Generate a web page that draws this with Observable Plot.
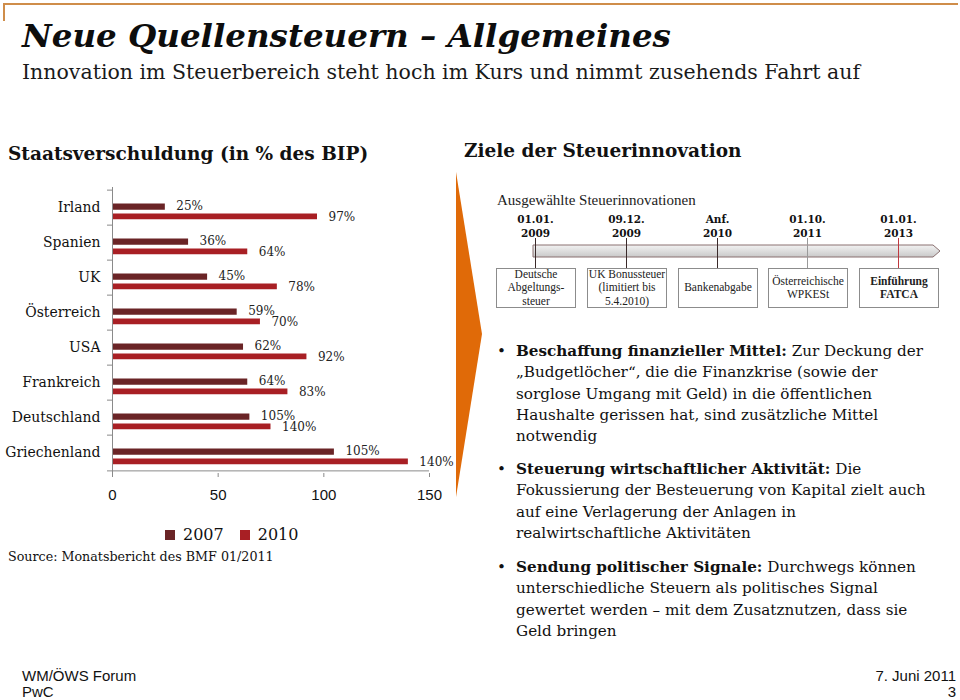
<!DOCTYPE html>
<html><head><meta charset="utf-8">
<script src="https://cdn.jsdelivr.net/npm/d3@7"></script>
<script src="https://cdn.jsdelivr.net/npm/@observablehq/plot@0.6"></script>
<style>
body{margin:0;background:#fff;}
#page{position:relative;width:960px;height:700px;overflow:hidden;font-family:"DejaVu Serif",serif;color:#111;}
.abs{position:absolute;white-space:nowrap;}
#title{left:22px;top:16px;font:bold italic 32.5px "DejaVu Serif",serif;color:#0d0d0d;}
#subtitle{left:22px;top:60px;font:20.5px "DejaVu Serif",serif;color:#1a1a1a;}
.h2{font:bold 18.5px "DejaVu Serif",serif;color:#111;}
#chart{left:0;top:180px;}
#legend{left:165px;top:518px;}
#legend *{font-family:"DejaVu Serif",serif !important;font-size:16px !important;color:#111;}
#source{left:8px;top:549px;font:12.7px "DejaVu Serif",serif;color:#111;}
.tl-date{font:bold 10.5px "DejaVu Serif",serif;text-align:center;width:70px;line-height:14px;}
.tl-box{border:1px solid #8c8c8c;background:#fff;font:11.5px "Liberation Serif","Times New Roman",serif;text-align:center;display:flex;align-items:center;justify-content:center;line-height:13.5px;white-space:nowrap;color:#222;}
.bul{left:497px;font:15.2px "DejaVu Serif",serif;line-height:21.3px;color:#111;}
.bul .dot{position:absolute;left:0;top:0;}
.bul .txt{position:absolute;left:19px;top:0;}
.foot{font:15px "Liberation Sans",Arial,sans-serif;color:#111;}
</style></head><body><div id="page">
<div class="abs" style="left:3px;top:3px;width:955px;height:2px;background:#cf8d4a"></div>
<div class="abs" style="left:3px;top:3px;width:2px;height:18px;background:#cf8d4a"></div>
<div id="title" class="abs">Neue Quellensteuern – Allgemeines</div>
<div id="subtitle" class="abs">Innovation im Steuerbereich steht hoch im Kurs und nimmt zusehends Fahrt auf</div>
<div class="abs h2" style="left:8px;top:143px">Staatsverschuldung (in % des BIP)</div>
<div class="abs h2" style="left:464px;top:140px">Ziele der Steuerinnovation</div>
<div id="chart" class="abs"></div>
<div id="legend" class="abs"></div>
<div id="source" class="abs">Source: Monatsbericht des BMF 01/2011</div>
<svg class="abs" style="left:0;top:0" width="960" height="700" id="deco"></svg>
<div id="timeline"></div>
<div id="bullets"></div>
<div class="abs foot" style="left:22px;top:667px">WM/ÖWS Forum</div>
<div class="abs foot" style="left:22px;top:683px">PwC</div>
<div class="abs foot" style="right:4px;top:667px">7. Juni 2011</div>
<div class="abs foot" style="right:4px;top:683px">3</div>
</div>
<script>
// ---- Data ----
const countries = ["Irland","Spanien","UK","Österreich","USA","Frankreich","Deutschland","Griechenland"];
const years = ["2007","2010"];
const debt2007 = [25,36,45,59,62,64,65,105];
const debt2010 = [97,64,78,70,92,83,75,140];
const labels2007 = ["25%","36%","45%","59%","62%","64%","105%","105%"];
const labels2010 = ["97%","64%","78%","70%","92%","83%","140%","140%"];
const xTicks = [0,50,100,150];
const yearColors = ["#6a2426","#a81f24"];

const eventDates = [["01.01.","2009"],["09.12.","2009"],["Anf.","2010"],["01.10.","2011"],["01.01.","2013"]];
const eventNames = ["Deutsche<br>Abgeltungs-<br>steuer","UK Bonussteuer<br>(limitiert bis<br>5.4.2010)","Bankenabgabe","Österreichische<br>WPKESt","<b>Einführung<br>FATCA</b>"];
const eventLineColors = ["#3a2a2a","#3a2a2a","#3a2a2a","#9a9a9a","#c0393f"];

const bullets = [
  ["Beschaffung finanzieller Mittel:", " Zur Deckung der", ["„Budgetlöcher“, die die Finanzkrise (sowie der","sorglose Umgang mit Geld) in die öffentlichen","Haushalte gerissen hat, sind zusätzliche Mittel","notwendig"]],
  ["Steuerung wirtschaftlicher Aktivität:", " Die", ["Fokussierung der Besteuerung von Kapital zielt auch","auf eine Verlagerung der Anlagen in","realwirtschaftliche Aktivitäten"]],
  ["Sendung politischer Signale:", " Durchwegs können", ["unterschiedliche Steuern als politisches Signal","gewertet werden – mit dem Zusatznutzen, dass sie","Geld bringen"]]
];

// ---- Chart ----
const rows = years.flatMap((yr, j) => countries.map((c, i) => ({
  country: c, year: yr,
  value: j ? debt2010[i] : debt2007[i],
  label: j ? labels2010[i] : labels2007[i]
})));
const r07 = rows.filter(d => d.year === "2007");
const r10 = rows.filter(d => d.year === "2010");

const H = 329, MT = 7, MB = 36;
const BW = (H - MT - MB) / countries.length;
const axisColor = "#8a8a8a";

const chart = Plot.plot({
  width: 460, height: H,
  marginLeft: 112, marginRight: 31, marginTop: MT, marginBottom: MB,
  style: {background: "transparent", overflow: "visible"},
  x: {domain: [0, 150], label: null},
  y: {domain: countries, padding: 0, label: null},
  color: {domain: years, range: yearColors},
  marks: [
    Plot.barX(r07, {y: "country", x: "value", fill: "year", insetTop: 13.5, insetBottom: BW - 20.5}),
    Plot.barX(r10, {y: "country", x: "value", fill: "year", insetTop: 23.5, insetBottom: BW - 30}),
    Plot.text(r07, {y: "country", x: "value", text: "label", textAnchor: "start", dx: 11, dy: -2,
      fontFamily: "DejaVu Serif", fontSize: 12, fill: "#222"}),
    Plot.text(r10, {y: "country", x: "value", text: "label", textAnchor: "start", dx: 11, dy: 9.5,
      fontFamily: "DejaVu Serif", fontSize: 12, fill: "#222"}),
    Plot.ruleX([0], {stroke: axisColor, insetBottom: -4}),
    Plot.ruleY(countries, {y: d => d, x1: 0, x2: 0, insetLeft: -5, dy: -BW / 2, stroke: axisColor}),
    Plot.ruleY([countries[countries.length - 1]], {y: d => d, x1: 0, x2: 150, insetLeft: -5, dy: BW / 2, stroke: axisColor}),
    Plot.axisX(xTicks, {tickSize: 4, tickPadding: 12, stroke: axisColor, fontFamily: "Liberation Sans, Arial, sans-serif", fontSize: 15, fill: "#111", label: null, tickFormat: d => String(d)}),
    Plot.axisY({tickSize: 0, tickPadding: 12, fontFamily: "DejaVu Serif Condensed, DejaVu Serif", fontSize: 15.5, fill: "#111", label: null, dy: -1})
  ]
});
document.getElementById("chart").appendChild(chart);
document.getElementById("legend").appendChild(chart.legend("color", {swatchSize: 10}));

// ---- Decorations ----
const svgNS = "http://www.w3.org/2000/svg";
const deco = document.getElementById("deco");
function add(tag, attrs){const e=document.createElementNS(svgNS,tag);for(const k in attrs)e.setAttribute(k,attrs[k]);deco.appendChild(e);return e;}
add("polygon",{points:"456,172 482,334 456,497",fill:"#e06a08"});
const defs = add("defs",{});
defs.innerHTML = '<linearGradient id="gg" x1="0" y1="0" x2="0" y2="1"><stop offset="0" stop-color="#f2f2f2"/><stop offset="1" stop-color="#c9c9c9"/></linearGradient>';
add("polygon",{points:"533,245 933,245 940,251 933,257 533,257",fill:"url(#gg)",stroke:"#8a7070","stroke-width":1});

// timeline html
const tl = document.getElementById("timeline");
let html = '<div class="abs" style="left:497px;top:192px;font:15px \'Liberation Serif\',serif;color:#222">Ausgewählte Steuerinnovationen</div>';
const boxLeft = [496,587,678,768,859];
eventDates.forEach((d,i)=>{
  const cx = boxLeft[i] + 39.5;
  html += `<div class="abs tl-date" style="left:${cx-35}px;top:212px">${d[0]}<br>${d[1]}</div>`;
  html += `<div class="abs" style="left:${cx-0.5}px;top:238px;width:1.3px;height:30px;background:${eventLineColors[i]}"></div>`;
  html += `<div class="abs tl-box" style="left:${boxLeft[i]}px;top:268px;width:78px;height:38px">${eventNames[i]}</div>`;
});
tl.innerHTML = html;

// bullets
const bl = document.getElementById("bullets");
const starts = [341, 459, 557];
let bh = "";
bullets.forEach((b,i)=>{
  const lines = [`<b>${b[0]}</b>${b[1]}`, ...b[2]];
  bh += `<div class="abs bul" style="top:${starts[i]}px"><span class="dot">•</span><div class="txt">${lines.join("<br>")}</div></div>`;
});
bl.innerHTML = bh;
</script>
</body></html>
